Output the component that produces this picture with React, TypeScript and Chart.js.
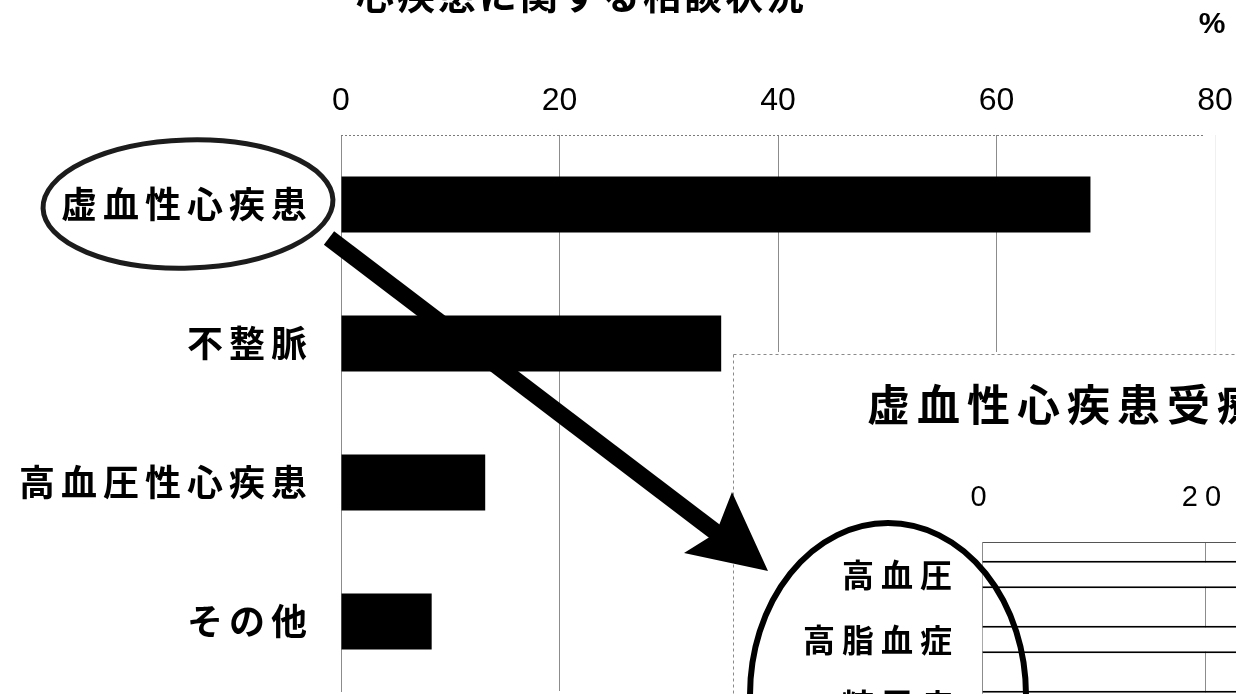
import { useEffect, useRef } from "react";
import { Chart, registerables } from "chart.js";

Chart.register(...registerables);

// 心疾患に関する相談 (%)
const heartCategories = ["虚血性心疾患", "不整脈", "高血圧性心疾患", "その他"];
const heartShares = [68.6, 34.8, 13.2, 8.3];
const heartTicks = [0, 20, 40, 60, 80];
const heartTitle = "心疾患に関する相談状況";
const unitLabel = "%";

// 虚血性心疾患受療者の合併症 (%)
const ihdCategories = ["高血圧", "高脂血症", "糖尿病"];
const ihdShares = [52.5, 41.0, 30.5];
const ihdTicks = [0, 20, 40, 60];
const ihdTitle = "虚血性心疾患受療者の合併症";

const JP = '"Noto Sans CJK JP", "Noto Sans CJK SC", sans-serif';
const NUM = '"Liberation Sans", Arial, sans-serif';

// placement of the detail panel on the page
const INSET_X = 733;
const INSET_Y = 352;
const INSET_W = 954;
const INSET_H = 400;

// keep the plot area exactly where the layout puts it (no label overflow padding)
const noOverflow = (s: any) => {
  s.paddingTop = 0;
  s.paddingBottom = 0;
  s.paddingLeft = 0;
  s.paddingRight = 0;
};

// thick arrow from the highlighted category down into the detail panel
function drawArrow(ctx: CanvasRenderingContext2D, ox: number, oy: number) {
  ctx.save();
  ctx.translate(ox, oy);
  ctx.fillStyle = "#000";
  const sx = 329, sy = 238;
  const nx = 718, ny = 534;
  const ang = Math.atan2(ny - sy, nx - sx);
  const hw = 8.5;
  const px = -Math.sin(ang) * hw;
  const py = Math.cos(ang) * hw;
  ctx.beginPath();
  ctx.moveTo(sx + px, sy + py);
  ctx.lineTo(nx + px + 4, ny + py + 3);
  ctx.lineTo(nx - px + 4, ny - py + 3);
  ctx.lineTo(sx - px, sy - py);
  ctx.closePath();
  ctx.fill();
  ctx.beginPath();
  ctx.moveTo(768, 571);
  ctx.lineTo(732, 492);
  ctx.lineTo(716, 533);
  ctx.lineTo(684, 553);
  ctx.closePath();
  ctx.fill();
  ctx.restore();
}

const heartDecor = {
  id: "heartDecor",
  beforeDraw(chart: Chart) {
    const ctx = chart.ctx;
    ctx.save();
    ctx.fillStyle = "#fff";
    ctx.fillRect(0, 0, chart.width, chart.height);
    ctx.restore();
    ctx.letterSpacing = "0px";
  },
  afterDatasetsDraw(chart: Chart) {
    // category labels are drawn after the bars, with wider spacing
    chart.ctx.letterSpacing = "6px";
  },
  afterDraw(chart: Chart) {
    const ctx = chart.ctx;
    ctx.letterSpacing = "0px";
    ctx.save();
    // dotted frame line along the top of the plot
    const { left, right, top } = chart.chartArea;
    ctx.strokeStyle = "#7a7a7a";
    ctx.lineWidth = 1;
    ctx.setLineDash([2, 2]);
    ctx.beginPath();
    ctx.moveTo(left, top + 0.5);
    ctx.lineTo(right - 12, top + 0.5);
    ctx.stroke();
    ctx.setLineDash([]);

    ctx.fillStyle = "#000";
    ctx.font = `bold 38px ${JP}`;
    ctx.letterSpacing = "3px";
    ctx.textAlign = "left";
    ctx.textBaseline = "alphabetic";
    ctx.fillText(heartTitle, 356, 9);
    ctx.letterSpacing = "0px";
    ctx.font = `bold 30px ${NUM}`;
    ctx.textAlign = "center";
    ctx.textBaseline = "middle";
    ctx.fillText(unitLabel, 1212, 25);
    // ring around the highlighted category
    ctx.beginPath();
    ctx.ellipse(188, 204, 145, 64, -0.03, 0, Math.PI * 2);
    ctx.lineWidth = 5;
    ctx.strokeStyle = "#1c1c1c";
    ctx.stroke();
    drawArrow(ctx, 0, 0);
    ctx.restore();
  },
};

const ihdDecor = {
  id: "ihdDecor",
  beforeDraw(chart: Chart) {
    const ctx = chart.ctx;
    ctx.save();
    ctx.fillStyle = "#fff";
    ctx.fillRect(0, 0, chart.width, chart.height);
    ctx.strokeStyle = "#8a8a8a";
    ctx.lineWidth = 1;
    ctx.setLineDash([3, 3]);
    ctx.beginPath();
    ctx.moveTo(0.5, 2.5);
    ctx.lineTo(chart.width, 2.5);
    ctx.moveTo(0.5, 2.5);
    ctx.lineTo(0.5, chart.height);
    ctx.stroke();
    ctx.restore();
    ctx.letterSpacing = "7px";
  },
  afterDraw(chart: Chart) {
    const ctx = chart.ctx;
    ctx.letterSpacing = "0px";
    ctx.save();
    // ring around the detail labels
    ctx.beginPath();
    ctx.ellipse(888 - INSET_X, 695 - INSET_Y, 138, 172, 0, 0, Math.PI * 2);
    ctx.lineWidth = 6;
    ctx.strokeStyle = "#000";
    ctx.stroke();
    ctx.restore();
    drawArrow(ctx, -INSET_X, -INSET_Y);
  },
};

const IHD_TITLE_PAD = { top: 27, bottom: 10 };
const IHD_TITLE_SIZE = 43;
const IHD_PLOT_TOP = 190;

export default function App() {
  const mainRef = useRef<HTMLCanvasElement>(null);
  const insetRef = useRef<HTMLCanvasElement>(null);

  useEffect(() => {
    const main = new Chart(mainRef.current!, {
      type: "bar",
      data: {
        labels: heartCategories,
        datasets: [
          {
            data: heartShares,
            backgroundColor: "#000",
            borderWidth: 0,
            barPercentage: 0.403,
            categoryPercentage: 1,
          },
        ],
      },
      options: {
        indexAxis: "y",
        responsive: false,
        animation: false,
        events: [],
        layout: { padding: { left: 0, top: 0, right: 21, bottom: 3 } },
        plugins: {
          legend: { display: false },
          title: { display: false },
          tooltip: { enabled: false },
        },
        scales: {
          x: {
            type: "linear",
            position: "top",
            min: 0,
            max: 80,
            afterBuildTicks: (s: any) => {
              s.ticks = heartTicks.map((v) => ({ value: v }));
            },
            afterFit: (s: any) => {
              s.height = 135;
              noOverflow(s);
            },
            ticks: { font: { family: NUM, size: 32 }, color: "#000", padding: 15 },
            grid: {
              color: (c: any) => (c.tick && c.tick.value === 80 ? "rgba(0,0,0,0.06)" : "#8c8c8c"),
              lineWidth: 1,
              drawTicks: false,
            },
            border: { display: false },
          },
          y: {
            type: "category",
            afterFit: (s: any) => {
              s.width = 341;
              noOverflow(s);
            },
            ticks: {
              font: { family: JP, size: 36, weight: "bold" },
              color: "#000",
              padding: 28,
              z: 1,
            },
            grid: { display: false, drawTicks: false },
            border: { display: true, color: "#8c8c8c", dash: [6, 3], width: 1 },
          },
        },
      },
      plugins: [heartDecor],
    } as any);

    const titleH = IHD_TITLE_SIZE * 1.2 + IHD_TITLE_PAD.top + IHD_TITLE_PAD.bottom;
    const inset = new Chart(insetRef.current!, {
      type: "bar",
      data: {
        labels: ihdCategories,
        datasets: [
          {
            data: ihdShares,
            backgroundColor: "#fff",
            borderColor: "#000",
            borderWidth: 2,
            barPercentage: 0.42,
            categoryPercentage: 1,
          },
        ],
      },
      options: {
        indexAxis: "y",
        responsive: false,
        animation: false,
        events: [],
        layout: { padding: { left: 0, top: 0, right: 36, bottom: 15 } },
        plugins: {
          legend: { display: false },
          tooltip: { enabled: false },
          title: {
            display: true,
            text: ihdTitle,
            align: "center",
            color: "#000",
            font: { family: JP, size: IHD_TITLE_SIZE, weight: "bold" },
            padding: IHD_TITLE_PAD,
          },
        },
        scales: {
          x: {
            type: "linear",
            position: "top",
            min: 0,
            max: 60,
            afterBuildTicks: (s: any) => {
              s.ticks = ihdTicks.map((v) => ({ value: v }));
            },
            afterFit: (s: any) => {
              s.height = IHD_PLOT_TOP - titleH;
              noOverflow(s);
            },
            ticks: { font: { family: NUM, size: 29 }, color: "#000", padding: 27 },
            grid: { color: "#8c8c8c", lineWidth: 1, drawTicks: false },
            border: { display: true, color: "#555", width: 1 },
          },
          y: {
            type: "category",
            afterFit: (s: any) => {
              s.width = 249;
              noOverflow(s);
            },
            ticks: {
              font: { family: JP, size: 32, weight: "bold" },
              color: "#000",
              padding: 23,
            },
            grid: { display: false, drawTicks: false },
            border: { display: true, color: "#8c8c8c", dash: [6, 3], width: 1 },
          },
        },
      },
      plugins: [ihdDecor],
    } as any);

    return () => {
      main.destroy();
      inset.destroy();
    };
  }, []);

  return (
    <div
      style={{
        position: "fixed",
        left: 0,
        top: 0,
        width: 1236,
        height: 694,
        overflow: "hidden",
        background: "#fff",
      }}
    >
      <canvas
        ref={mainRef}
        width={1236}
        height={694}
        style={{ position: "absolute", left: 0, top: 0 }}
      />
      <canvas
        ref={insetRef}
        width={INSET_W}
        height={INSET_H}
        style={{ position: "absolute", left: INSET_X, top: INSET_Y }}
      />
    </div>
  );
}
